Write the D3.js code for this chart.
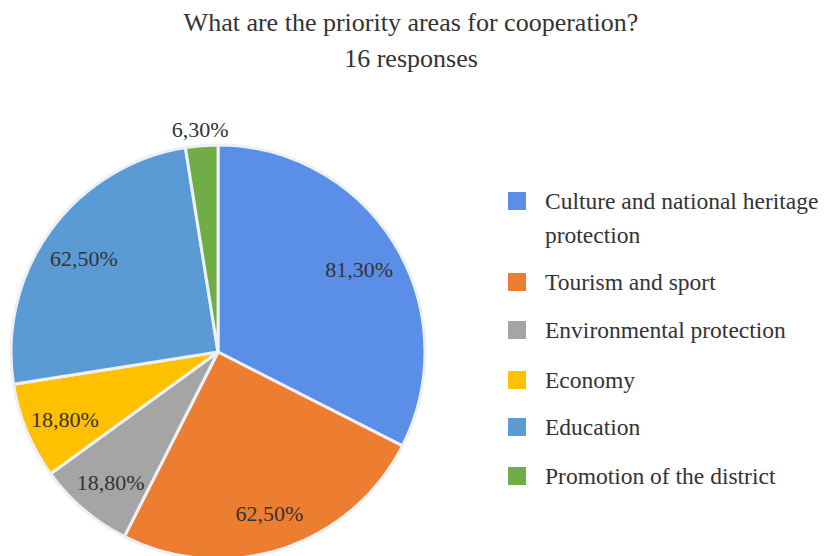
<!DOCTYPE html>
<html>
<head>
<meta charset="utf-8">
<script src="https://cdn.jsdelivr.net/npm/d3@7"></script>
<style>
  html, body { margin: 0; padding: 0; background: #fff; }
  svg { display: block; }
  text { font-family: "Liberation Serif", "Times New Roman", serif; fill: #333; }
</style>
</head>
<body>
<svg id="chart" width="827" height="556"></svg>
<script>
// Survey: share of respondents naming each area (multiple answers allowed)
const categories = [
  "Culture and national heritage protection",
  "Tourism and sport",
  "Environmental protection",
  "Economy",
  "Education",
  "Promotion of the district"
];
const values = [81.3, 62.5, 18.8, 18.8, 62.5, 6.3];
const valueLabels = ["81,30%", "62,50%", "18,80%", "18,80%", "62,50%", "6,30%"];
const legendLines = [
  ["Culture and national heritage", "protection"],
  ["Tourism and sport"],
  ["Environmental protection"],
  ["Economy"],
  ["Education"],
  ["Promotion of the district"]
];
const colors = ["#5B8EE6", "#ED7D31", "#A5A5A5", "#FFC000", "#5B9BD5", "#70AD47"];

const svg = d3.select("#chart");

// Title
svg.append("text").attr("x", 411).attr("y", 31).attr("text-anchor", "middle")
  .attr("font-size", 26).text("What are the priority areas for cooperation?");
svg.append("text").attr("x", 411).attr("y", 67).attr("text-anchor", "middle")
  .attr("font-size", 26).text("16 responses");

// Pie
const cx = 218, cy = 352, r = 207;
const data = categories.map((c, i) => ({ name: c, value: values[i], label: valueLabels[i], color: colors[i] }));
const pie = d3.pie().value(d => d.value).sort(null);
const arcs = pie(data);
const arc = d3.arc().innerRadius(0).outerRadius(r);

const g = svg.append("g").attr("transform", `translate(${cx},${cy})`);
g.selectAll("path").data(arcs).join("path")
  .attr("d", arc)
  .attr("fill", d => d.data.color)
  .attr("stroke", "#edf0f5")
  .attr("stroke-width", 3)
  .attr("stroke-linejoin", "round");

// Value labels: inside for wide slices, above the rim for thin ones
const innerLabel = d3.arc().innerRadius(r * 0.8).outerRadius(r * 0.8);
const outerLabel = d3.arc().innerRadius(r + 20).outerRadius(r + 20);
g.selectAll("text.val").data(arcs).join("text")
  .attr("class", "val")
  .attr("transform", d => {
    const small = (d.endAngle - d.startAngle) < 0.25;
    const [x, y] = (small ? outerLabel : innerLabel).centroid(d);
    return `translate(${x},${y + 4})`;
  })
  .attr("text-anchor", "middle")
  .attr("dy", "0.35em")
  .attr("font-size", 22)
  .text(d => d.data.label);

// Legend
const legendY = [201, 282, 330, 380, 427, 476];
const lg = svg.append("g");
data.forEach((d, i) => {
  const y = legendY[i];
  lg.append("rect").attr("x", 508).attr("y", y - 9).attr("width", 18).attr("height", 18)
    .attr("fill", d.color);
  legendLines[i].forEach((line, j) => {
    lg.append("text").attr("x", 545).attr("y", y + j * 34).attr("dy", "0.35em")
      .attr("font-size", 23.5).text(line);
  });
});
</script>
</body>
</html>
